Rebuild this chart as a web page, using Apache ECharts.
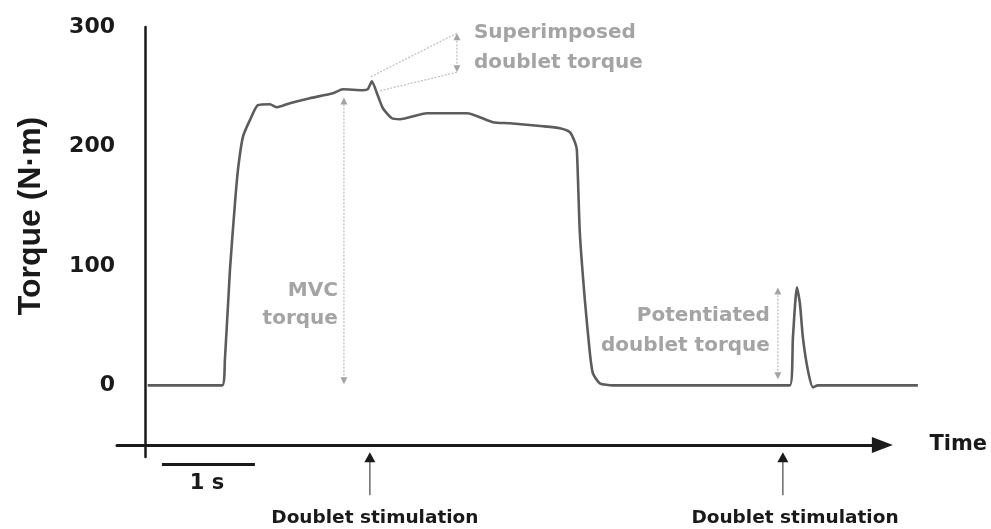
<!DOCTYPE html>
<html>
<head>
<meta charset="utf-8">
<script src="https://cdn.jsdelivr.net/npm/echarts@6/dist/echarts.min.js"></script>
<style>
  html, body { margin: 0; padding: 0; background: #ffffff; }
  #chart { width: 991px; height: 529px; }
</style>
</head>
<body>
<div id="chart"></div>
<script>
// Torque recording: [time (s), torque (N·m)]
const torqueTrace = [
  [0.03, 0], [0.83, 0], [0.86, 21], [0.914, 96], [0.968, 152], [1.0, 180],
  [1.054, 208], [1.129, 222], [1.215, 234.5], [1.344, 235.3], [1.419, 232.8],
  [1.559, 236.2], [1.774, 240.4], [2.022, 244.6], [2.129, 247.9], [2.344, 247.1],
  [2.398, 248], [2.441, 254.6], [2.495, 244.6], [2.559, 232], [2.656, 223.6],
  [2.742, 222.8], [3.032, 227.8], [3.462, 227.8], [3.742, 220.3], [3.925, 219.4],
  [4.28, 216.9], [4.462, 215.2], [4.57, 211.9], [4.624, 203.5], [4.645, 196.8],
  [4.677, 127.3], [4.731, 71.2], [4.785, 26.8], [4.817, 10.1], [4.892, 1.7],
  [5.032, 0], [6.935, 0], [6.968, 40.2], [7.011, 82.1], [7.043, 68.7],
  [7.075, 40.2], [7.129, 12.6], [7.183, -1.7], [7.237, 0], [8.312, 0]
];

// Labelled torque values on the vertical axis
const yTickLabels = [0, 100, 200, 300];

// Time span covered by the recording panel and by the drawn time arrow (s)
const traceWindow = [-0.3, 8.35];
const timeArrowWindow = [-0.3, 7.93];

// Times (s) at which the doublets were delivered
const stimulationTimes = [2.419, 6.86];

// Vertical extent of each torque measure: [time (s), from (N·m), to (N·m)]
const mvcTorque = [2.14, 1, 241];
const superimposedTorque = [3.355, 262.1, 294.8];
const potentiatedTorque = [6.806, 5, 82];

// Time scale bar: [start (s), end (s)] = 1 s
const scaleBar = [0.183, 1.183];

// Text placement (data coordinates) for the annotations
const notes = {
  mvc:          { at: [2.075, 67.8],  text: 'MVC\ntorque',                  align: 'right' },
  superimposed: { at: [3.538, 282.2], text: 'Superimposed\ndoublet torque', align: 'left' },
  potentiated:  { at: [6.72, 46],     text: 'Potentiated\ndoublet torque',  align: 'right' },
  scale:        { at: [0.667, -82],   text: '1 s',                          align: 'center' }
};
const stimulationLabelAt = [[2.473, -111.4], [6.99, -111.4]];
const stimulationLabel = 'Doublet stimulation';
const superimposedLinks = [
  [[3.355, 294.8], [2.42, 258]],
  [[3.355, 262.1], [2.527, 246.6]]
];

const INK = '#1a1a1a';
const NOTE_GREY = '#a4a4a4';
const GUIDE_GREY = '#c2c2c2';
const BOLD = 'bold 20px "DejaVu Sans"';

// Both panels share left/top/bottom and the same seconds-per-pixel scale
const PX_PER_S = 93;
const GRID_LEFT = 117;
const W = 991;

function arrowHead(tip, dir, w, h, color) {
  const bx = tip[0] - dir[0] * h, by = tip[1] - dir[1] * h;
  const px = -dir[1], py = dir[0];
  return {
    type: 'polygon',
    shape: { points: [tip, [bx + px * w / 2, by + py * w / 2], [bx - px * w / 2, by - py * w / 2]] },
    style: { fill: color }
  };
}

function noteText(pos, text, align, fill, font, lineHeight) {
  return {
    type: 'text',
    x: pos[0], y: pos[1],
    style: {
      text: text, fill: fill, font: font, lineHeight: lineHeight,
      align: align, verticalAlign: 'middle',
      textAlign: align, textVerticalAlign: 'middle'
    }
  };
}

function renderAnnotations(params, api) {
  const P = (t, v) => api.coord([t, v]);
  const kids = [];

  // double-headed measuring arrows
  [mvcTorque, superimposedTorque, potentiatedTorque].forEach(function (m) {
    const lo = P(m[0], m[1]), hi = P(m[0], m[2]);
    kids.push({ type: 'line', shape: { x1: lo[0], y1: lo[1] - 5, x2: hi[0], y2: hi[1] + 5 },
      style: { stroke: GUIDE_GREY, lineWidth: 1.3, lineDash: [2, 1.5] } });
    kids.push(arrowHead(hi, [0, -1], 7, 7, NOTE_GREY));
    kids.push(arrowHead(lo, [0, 1], 7, 7, NOTE_GREY));
  });

  // guides from the superimposed twitch to its measuring arrow
  superimposedLinks.forEach(function (seg) {
    const a = P(seg[0][0], seg[0][1]), b = P(seg[1][0], seg[1][1]);
    kids.push({ type: 'line', shape: { x1: a[0], y1: a[1], x2: b[0], y2: b[1] },
      style: { stroke: GUIDE_GREY, lineWidth: 1.3, lineDash: [2, 1.5] } });
  });

  // annotation texts
  ['mvc', 'superimposed', 'potentiated'].forEach(function (k) {
    const n = notes[k];
    kids.push(noteText(P(n.at[0], n.at[1]), n.text, n.align, NOTE_GREY, BOLD, k === 'mvc' ? 28 : 30));
  });

  // 1 s scale bar
  const s0 = P(scaleBar[0], -66.2), s1 = P(scaleBar[1], -66.2);
  kids.push({ type: 'line', shape: { x1: s0[0], y1: s0[1], x2: s1[0], y2: s1[1] },
    style: { stroke: INK, lineWidth: 3 } });
  kids.push(noteText(P(notes.scale.at[0], notes.scale.at[1]), notes.scale.text, 'center', INK,
    'bold 21px "DejaVu Sans"', 24));

  // stimulation markers
  stimulationTimes.forEach(function (t, i) {
    const tip = P(t, -56), base = P(t, -92);
    kids.push({ type: 'line', shape: { x1: base[0], y1: base[1], x2: tip[0], y2: tip[1] + 8 },
      style: { stroke: '#555555', lineWidth: 1.3 } });
    kids.push(arrowHead(tip, [0, -1], 11, 10, INK));
    const lp = P(stimulationLabelAt[i][0], stimulationLabelAt[i][1]);
    kids.push(noteText(lp, stimulationLabel, 'center', INK, 'bold 18.5px "DejaVu Sans"', 22));
  });

  return { type: 'group', children: kids };
}

function rightFor(win) {
  return W - GRID_LEFT - (win[1] - win[0]) * PX_PER_S;
}

const chart = echarts.init(document.getElementById('chart'), null, { renderer: 'canvas' });
chart.setOption({
  animation: false,
  backgroundColor: '#ffffff',
  grid: [
    // recording panel
    { left: GRID_LEFT, right: rightFor(traceWindow), top: 27, bottom: 72,
      outerBoundsMode: 'none', containLabel: false },
    // time arrow panel
    { left: GRID_LEFT, right: rightFor(timeArrowWindow), top: 27, bottom: 72,
      outerBoundsMode: 'none', containLabel: false }
  ],
  xAxis: [
    {
      gridIndex: 0,
      type: 'value',
      min: traceWindow[0],
      max: traceWindow[1],
      axisLine: { show: false, onZero: false },
      axisTick: { show: false },
      axisLabel: { show: false },
      splitLine: { show: false }
    },
    {
      gridIndex: 1,
      type: 'value',
      min: timeArrowWindow[0],
      max: timeArrowWindow[1],
      offset: -12,
      name: 'Time',
      nameLocation: 'end',
      nameGap: 47,
      nameTextStyle: { color: INK, fontFamily: 'DejaVu Sans', fontWeight: 'bold', fontSize: 21,
        verticalAlign: 'middle' },
      axisLine: { onZero: false, symbol: ['none', 'triangle'], symbolSize: [16, 21],
        lineStyle: { color: INK, width: 3 } },
      axisTick: { show: false },
      axisLabel: { show: false },
      splitLine: { show: false }
    }
  ],
  yAxis: [
    {
      gridIndex: 0,
      type: 'value',
      min: -60,
      max: 300,
      name: 'Torque (N·m)',
      nameLocation: 'middle',
      nameGap: 70,
      nameTextStyle: { color: INK, fontFamily: 'Liberation Sans', fontWeight: 'bold', fontSize: 32,
        padding: [0, 0, 0, 52] },
      axisLine: { onZero: true, lineStyle: { color: INK, width: 2.5 } },
      axisTick: { show: false },
      splitLine: { show: false },
      axisLabel: {
        margin: 2,
        color: INK,
        fontFamily: 'DejaVu Sans',
        fontWeight: 'bold',
        fontSize: 22,
        showMinLabel: false,
        formatter: function (v) { return yTickLabels.indexOf(v) >= 0 ? String(v) : ''; }
      }
    },
    {
      gridIndex: 1,
      type: 'value',
      min: -60,
      max: 300,
      show: false
    }
  ],
  series: [
    {
      type: 'line',
      xAxisIndex: 0,
      yAxisIndex: 0,
      data: torqueTrace,
      showSymbol: false,
      smooth: 0.2,
      lineStyle: { color: '#5c5c5c', width: 2.6 },
      silent: true,
      z: 3
    },
    {
      type: 'custom',
      xAxisIndex: 0,
      yAxisIndex: 0,
      data: [[0, 0]],
      clip: false,
      silent: true,
      z: 4,
      renderItem: renderAnnotations
    }
  ]
});
</script>
</body>
</html>
